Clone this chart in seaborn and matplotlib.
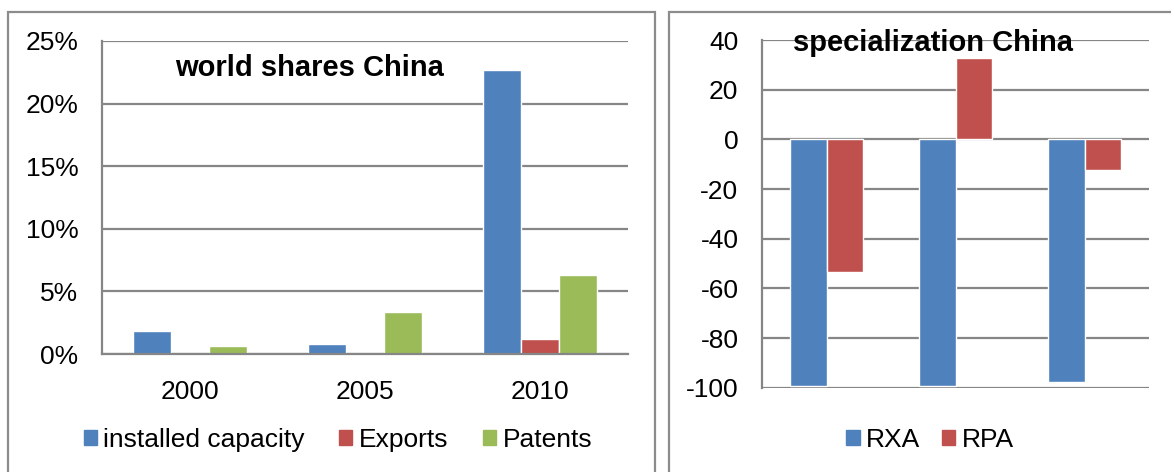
import pandas as pd
import matplotlib.pyplot as plt
import matplotlib.patches as mpatches
from matplotlib.ticker import FuncFormatter, FixedLocator
import seaborn as sns

years = ["2000", "2005", "2010"]
installed = [1.87, 0.80, 22.7]
exports = [0.0, 0.0, 1.18]
patents = [0.62, 3.34, 6.3]

spec_groups = ["a", "b", "c"]
rxa = [-99.2, -99.2, -97.6]
rpa = [-53.3, 32.6, -12.5]

blue, red, green = "#4F81BD", "#C0504D", "#9BBB59"
grid_c = "#868686"

sns.set_style("white")
plt.rcParams["font.family"] = ["Liberation Sans", "DejaVu Sans"]
plt.rcParams["axes.unicode_minus"] = False
plt.rcParams["text.color"] = "black"
plt.rcParams["xtick.labelcolor"] = "black"
plt.rcParams["ytick.labelcolor"] = "black"

left = pd.DataFrame({
    "year": years * 3,
    "share": installed + exports + patents,
    "series": ["installed capacity"] * 3 + ["Exports"] * 3 + ["Patents"] * 3,
})
right = pd.DataFrame({
    "grp": spec_groups * 2,
    "val": rxa + rpa,
    "series": ["RXA"] * 3 + ["RPA"] * 3,
})

fig = plt.figure(figsize=(11.71, 4.72), dpi=100)

# panel frames
fig.patches.append(mpatches.Rectangle((8 / 1171, -0.1), 647 / 1171, 1.1 - 12 / 472,
                                      transform=fig.transFigure, fill=False,
                                      edgecolor="#8c8c8c", linewidth=1.6))
fig.patches.append(mpatches.Rectangle((669 / 1171, -0.1), 0.5, 1.1 - 12 / 472,
                                      transform=fig.transFigure, fill=False,
                                      edgecolor="#8c8c8c", linewidth=1.6))

fs = 19
tfs = 21

# left chart
ax1 = fig.add_axes([102 / 1171, 1 - 354 / 472, 526 / 1171, 313 / 472])
sns.barplot(data=left, x="year", y="share", hue="series",
            palette=[blue, red, green], width=0.65, saturation=1,
            legend=False, ax=ax1)
ax1.set_ylim(0, 25)
ax1.set_yticks([0, 5, 10, 15, 20, 25])
ax1.yaxis.set_major_formatter(FuncFormatter(lambda v, p: f"{v:.0f}%"))
ax1.set_xlim(-0.5, 2.5)
ax1.xaxis.set_minor_locator(FixedLocator([-0.5, 0.5, 1.5, 2.5]))
ax1.tick_params(axis="x", which="major", length=0, pad=19, labelsize=fs)
ax1.tick_params(axis="x", which="minor", length=8, width=1.6, color=grid_c, direction="out")
fig.text(310 / 1171, 1 - 68 / 472, "world shares China",
         ha="center", va="center", fontsize=tfs, fontweight="bold", color="black")
ax1.legend(handles=[mpatches.Patch(color=blue, label="installed capacity"),
                    mpatches.Patch(color=red, label="Exports"),
                    mpatches.Patch(color=green, label="Patents")],
           loc="center", bbox_to_anchor=(338 / 1171, 1 - 440 / 472),
           bbox_transform=fig.transFigure, ncol=3, frameon=False, fontsize=fs,
           handlelength=0.5, handleheight=0.5, handletextpad=0.25,
           columnspacing=1.3, labelcolor="black")

# right chart
ax2 = fig.add_axes([762 / 1171, 1 - 387.7 / 472, 387 / 1171, 347.7 / 472])
sns.barplot(data=right, x="grp", y="val", hue="series",
            palette=[blue, red], width=0.56, saturation=1,
            legend=False, ax=ax2)
ax2.set_ylim(-100, 40)
ax2.set_yticks(range(-100, 41, 20))
ax2.set_xlim(-0.5, 2.5)
ax2.set_xticks([])
fig.text(933 / 1171, 1 - 43 / 472, "specialization China",
         ha="center", va="center", fontsize=tfs, fontweight="bold", color="black")
ax2.legend(handles=[mpatches.Patch(color=blue, label="RXA"),
                    mpatches.Patch(color=red, label="RPA")],
           loc="center", bbox_to_anchor=(930 / 1171, 1 - 440 / 472),
           bbox_transform=fig.transFigure, ncol=2, frameon=False, fontsize=fs,
           handlelength=0.5, handleheight=0.5, handletextpad=0.25,
           columnspacing=0.8, labelcolor="black")

for ax in (ax1, ax2):
    ax.set_xlabel("")
    ax.set_ylabel("")
    ax.grid(axis="y", color=grid_c, linewidth=1.6)
    ax.set_axisbelow(True)
    ax.tick_params(axis="y", length=8, width=1.6, color=grid_c, direction="out",
                   pad=9, labelsize=fs)
    for s in ("top", "right"):
        ax.spines[s].set_visible(False)
    ax.spines["left"].set_color(grid_c)
    ax.spines["left"].set_linewidth(1.6)
    ax.spines["bottom"].set_color(grid_c)
    ax.spines["bottom"].set_linewidth(1.6)
ax2.spines["bottom"].set_visible(False)

fig.savefig("out.png", dpi=100)
